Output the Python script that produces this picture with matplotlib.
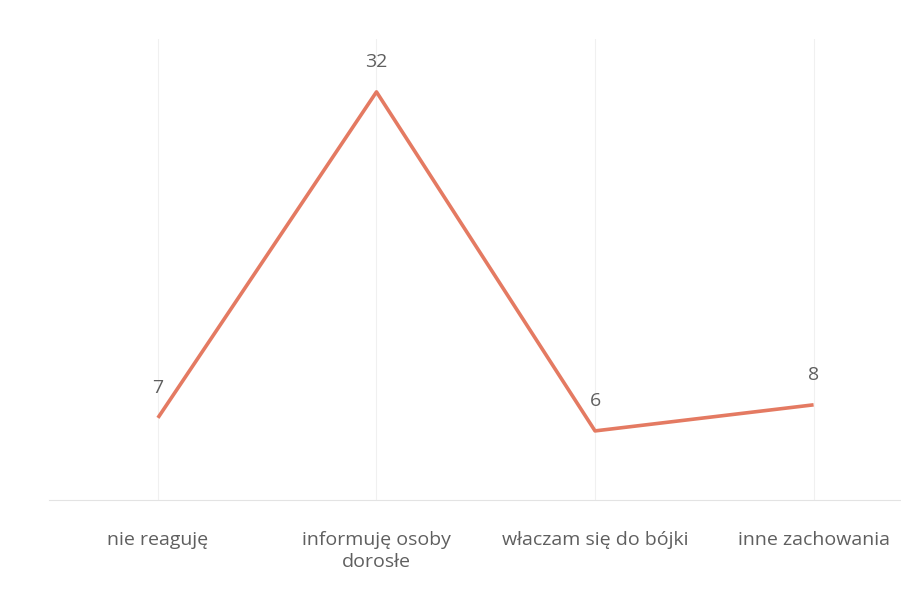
import matplotlib
matplotlib.use("Agg")
import matplotlib.pyplot as plt

categories = ["nie reaguję", "informuję osoby\ndorosłe", "właczam się do bójki", "inne zachowania"]
values = [7, 32, 6, 8]

fig = plt.figure(figsize=(9.01, 5.94), dpi=100)
ax = fig.add_axes([0.054, 0.158, 0.946, 0.776])

x = list(range(len(categories)))
ax.plot(x, values, color="#E47A62", linewidth=2.6, solid_capstyle="butt", zorder=3)

for xi, v in zip(x, values):
    ax.annotate(str(v), (xi, v), xytext=(0, 15), textcoords="offset points",
                ha="center", va="bottom", fontsize=14, color="#5f5f5f", family="Open Sans")

ax.set_xlim(-0.5, 3.4)
ax.set_ylim(0.69, 36.04)
ax.set_xticks(x)
ax.set_xticklabels(categories, fontsize=14, color="#5f5f5f", family="Open Sans", linespacing=1.3)
ax.tick_params(axis="x", length=0, pad=22)
ax.set_yticks([])
for xi in x:
    ax.axvline(xi, color="#F0F0F0", linewidth=0.8, zorder=1)
for s in ["top", "right", "left"]:
    ax.spines[s].set_visible(False)
ax.spines["bottom"].set_color("#E3E3E3")
ax.spines["bottom"].set_linewidth(0.8)

fig.savefig("out.png", dpi=100)
